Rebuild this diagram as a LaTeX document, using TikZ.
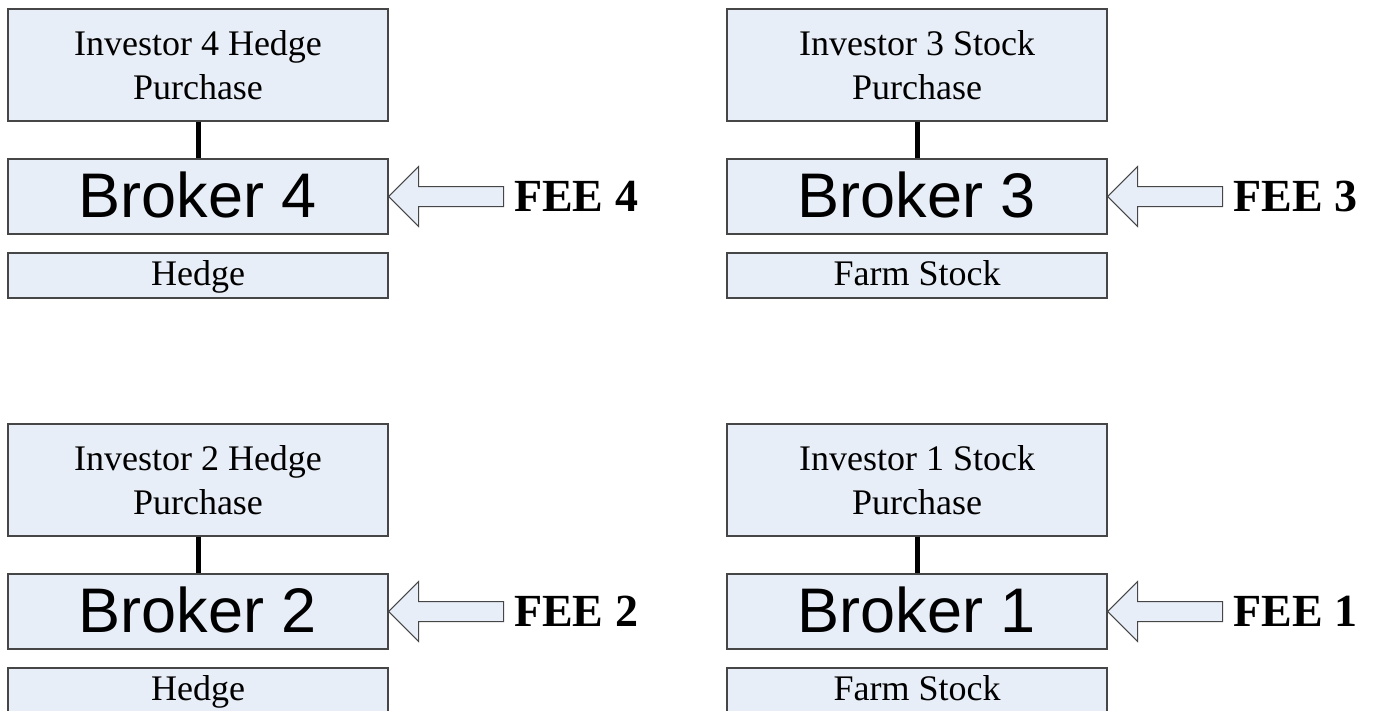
\documentclass[tikz,border=0pt]{standalone}
\usepackage{fontspec}
\setmainfont{Liberation Serif}
\newfontfamily\arialfont{Liberation Sans}
\definecolor{fondbleu}{RGB}{232,238,247}
\definecolor{bordgris}{RGB}{70,70,70}
\begin{document}
\begin{tikzpicture}[x=1pt, y=-1pt]
\tikzset{boite/.style={draw=bordgris, line width=1.3pt, fill=fondbleu, minimum width=380pt, inner sep=0pt, align=center, font=\fontsize{36}{44}\selectfont},
courtier/.style={boite, minimum height=75pt, text height=46pt, text depth=4pt, font=\arialfont\fontsize{63}{70}\selectfont},
bas/.style={boite, minimum height=45pt, text height=24pt, text depth=4pt},
fleche/.style={draw=bordgris, line width=1pt, fill=fondbleu, line join=miter},
frais/.style={anchor=west, inner sep=0pt, font=\bfseries\fontsize{46}{50}\selectfont},
lien/.style={line width=5pt}}
\useasboundingbox (0,0) rectangle (1375,710);
\clip (0,0) rectangle (1375,710);
\node[boite, minimum height=112pt] (I4) at (198,65) {Investor 4 Hedge\\Purchase};
\node[courtier] (B4) at (198,196.5) {Broker 4};
\node[bas] (H4) at (198,275.5) {Hedge};
\node[frais] (F4) at (514,196.5) {FEE 4};
\draw[lien] (I4) -- (B4);
\draw[fleche] (B4.east) -- ++(30,-30) -- ++(0,20) -- ++(85,0) -- ++(0,20) -- ++(-85,0) -- ++(0,20) -- cycle;
\node[boite, minimum height=112pt] (I3) at (917,65) {Investor 3 Stock\\Purchase};
\node[courtier] (B3) at (917,196.5) {Broker 3};
\node[bas] (H3) at (917,275.5) {Farm Stock};
\node[frais] (F3) at (1233,196.5) {FEE 3};
\draw[lien] (I3) -- (B3);
\draw[fleche] (B3.east) -- ++(30,-30) -- ++(0,20) -- ++(85,0) -- ++(0,20) -- ++(-85,0) -- ++(0,20) -- cycle;
\node[boite, minimum height=112pt] (I2) at (198,480) {Investor 2 Hedge\\Purchase};
\node[courtier] (B2) at (198,611.5) {Broker 2};
\node[bas] (H2) at (198,690.5) {Hedge};
\node[frais] (F2) at (514,611.5) {FEE 2};
\draw[lien] (I2) -- (B2);
\draw[fleche] (B2.east) -- ++(30,-30) -- ++(0,20) -- ++(85,0) -- ++(0,20) -- ++(-85,0) -- ++(0,20) -- cycle;
\node[boite, minimum height=112pt] (I1) at (917,480) {Investor 1 Stock\\Purchase};
\node[courtier] (B1) at (917,611.5) {Broker 1};
\node[bas] (H1) at (917,690.5) {Farm Stock};
\node[frais] (F1) at (1233,611.5) {FEE 1};
\draw[lien] (I1) -- (B1);
\draw[fleche] (B1.east) -- ++(30,-30) -- ++(0,20) -- ++(85,0) -- ++(0,20) -- ++(-85,0) -- ++(0,20) -- cycle;
\end{tikzpicture}
\end{document}
